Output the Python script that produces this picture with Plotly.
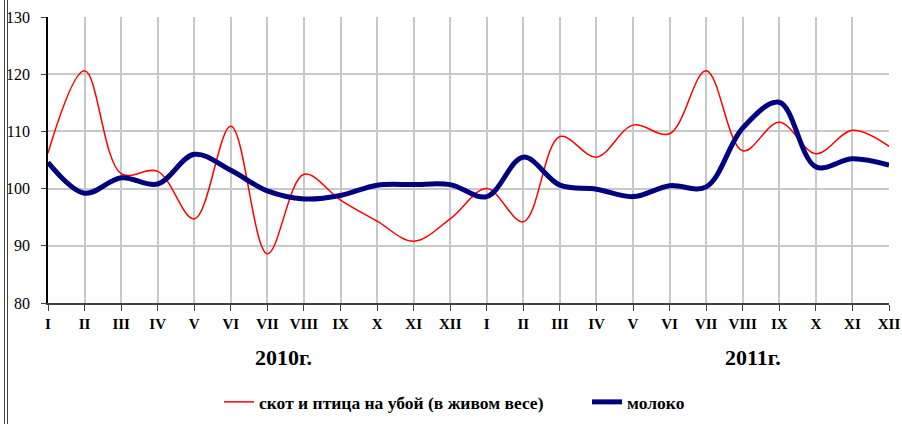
import plotly.graph_objects as go

months = ["I", "II", "III", "IV", "V", "VI", "VII", "VIII", "IX", "X", "XI", "XII"] * 2
years = ["2010г.", "2011г."]
livestock = [106.2, 120.6, 102.6, 103.0, 94.7, 110.9, 88.6, 102.5, 98.0, 94.3, 90.8, 94.7,
             100.0, 94.2, 109.1, 105.5, 111.1, 109.6, 120.6, 106.6, 111.6, 106.1, 110.2, 107.4]
milk = [104.6, 99.2, 101.9, 100.8, 106.0, 103.2, 99.6, 98.2, 98.8, 100.6, 100.7, 100.7,
        98.6, 105.5, 100.6, 99.9, 98.6, 100.5, 100.3, 110.6, 115.1, 103.8, 105.2, 104.1]
series_names = ["скот и птица на убой (в живом весе)", "молоко"]

xs = list(range(len(months)))
font = "Liberation Serif"
FW, FH = 902, 424
W = 841
H = 286

fig = go.Figure()
fig.add_trace(go.Scatter(x=xs, y=livestock, mode="lines", name=series_names[0], legend="legend",
                         line=dict(color="#ff0000", width=1.5, shape="spline", smoothing=1)))
fig.add_trace(go.Scatter(x=xs, y=milk, mode="lines", name=series_names[1], legend="legend2",
                         line=dict(color="#000080", width=5, shape="spline", smoothing=1)))

legfont = dict(family=font, size=17.5, color="black", weight="bold")
fig.update_layout(
    width=FW, height=FH,
    margin=dict(l=48, r=13, t=17, b=121),
    paper_bgcolor="white", plot_bgcolor="white",
    font=dict(family=font, color="black"),
    showlegend=True,
    legend=dict(orientation="h", xref="container", yref="container",
                x=219 / FW, y=1 - 402 / FH, xanchor="left", yanchor="middle", font=legfont),
    legend2=dict(orientation="h", xref="container", yref="container",
                 x=587 / FW, y=1 - 402 / FH, xanchor="left", yanchor="middle", font=legfont),
    xaxis=dict(range=[0, 23], tickmode="array", tickvals=xs, ticktext=months,
               showgrid=True, gridcolor="#c8c8c8", gridwidth=1.5,
               showline=True, linecolor="#404040", linewidth=1.5,
               ticks="outside", ticklen=6, tickcolor="#404040", zeroline=False,
               automargin=False,
               tickfont=dict(family=font, size=15, weight="bold")),
    yaxis=dict(range=[80, 130], tickmode="array", tickvals=[80, 90, 100, 110, 120, 130],
               showgrid=True, gridcolor="#c8c8c8", gridwidth=1.5,
               showline=True, linecolor="black", linewidth=1.5,
               ticks="outside", ticklen=5, tickcolor="#404040", zeroline=False,
               automargin=False, ticklabelstandoff=8,
               tickfont=dict(family=font, size=16)),
)

fig.add_annotation(text=years[0], xref="paper", yref="paper", x=(283 - 48) / W, y=-54 / H,
                   xanchor="center", yanchor="middle",
                   showarrow=False, font=dict(family=font, size=22, weight="bold"))
fig.add_annotation(text=years[1], xref="paper", yref="paper", x=(753 - 48) / W, y=-54 / H,
                   xanchor="center", yanchor="middle",
                   showarrow=False, font=dict(family=font, size=22, weight="bold"))

# page border (double line at left)
for px in (4.5, 7.5):
    fig.add_shape(type="line", xref="paper", yref="paper",
                  x0=(px - 48) / W, x1=(px - 48) / W, y0=-121 / H, y1=(H + 17) / H,
                  line=dict(color="#404040", width=1))

fig.write_html("out.html", config={"displayModeBar": False},
               post_script="document.body.style.margin='0';")
